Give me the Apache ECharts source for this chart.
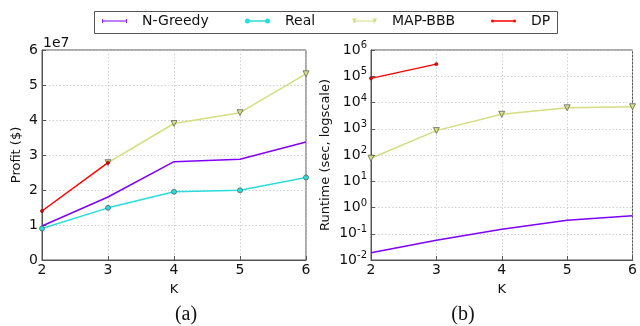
<!DOCTYPE html>
<html><head><meta charset="utf-8">
<script src="https://cdn.jsdelivr.net/npm/echarts@6/dist/echarts.min.js"></script>
<style>html,body{margin:0;padding:0;background:#fff}#c{width:640px;height:326px}</style>
</head><body><div id="c"></div>
<script>
const K = [2, 3, 4, 5, 6];
const seriesNames = ['N-Greedy', 'Real', 'MAP-BBB', 'DP'];
// Profit ($) panel (a)
const profitNGreedy = [0.97e7, 1.80e7, 2.81e7, 2.88e7, 3.37e7];
const profitReal    = [0.90e7, 1.49e7, 1.95e7, 1.99e7, 2.36e7];
const profitMAPBBB  = [null, 2.78e7, 3.90e7, 4.21e7, 5.32e7];
const profitDP      = [1.40e7, 2.78e7];
// Runtime (sec) panel (b)
const runNGreedy = [0.019, 0.056, 0.148, 0.33, 0.48];
const runMAPBBB  = [75, 850, 3550, 6300, 6900];
const runDP      = [8.3e4, 2.9e5];

const colors = {'N-Greedy':'#8000ff','Real':'#2adddd','MAP-BBB':'#d4dd80','DP':'#ff0000'};
const FONT = 'DejaVu Sans';
const pair = (xs, ys) => ys.map((y, i) => [xs[i], y]).filter(p => p[1] !== null);

const symbols = {
  'N-Greedy': {symbol:'none', symbolSize:0},
  'Real': {symbol:'circle', symbolSize:5},
  'MAP-BBB': {symbol:'triangle', symbolSize:6, symbolRotate:180},
  'DP': {symbol:'circle', symbolSize:3}
};
// legend icons: line with small markers at both ends (bbox = itemWidth x itemHeight)
const legendIcons = {
  'N-Greedy': {h:4, path:'path://M0,0 L0.8,0 L0.8,1.6 L24.2,1.6 L24.2,0 L25,0 L25,4 L24.2,4 L24.2,2.4 L0.8,2.4 L0.8,4 L0,4 Z'},
  'Real': {h:5, path:'path://M0,2.5 A2.5,2.5 0 1,1 5,2.5 A2.5,2.5 0 1,1 0,2.5 Z M2.5,1.8 L22.5,1.8 L22.5,3.2 L2.5,3.2 Z M20,2.5 A2.5,2.5 0 1,1 25,2.5 A2.5,2.5 0 1,1 20,2.5 Z'},
  'MAP-BBB': {h:5, path:'path://M0,0 L5,0 L3,2 L22,2 L20,0 L25,0 L22.5,5 L21,3 L4,3 L2.5,5 Z'},
  'DP': {h:3, path:'path://M0,1.5 A1.5,1.5 0 1,1 3,1.5 A1.5,1.5 0 1,1 0,1.5 Z M1.5,0.8 L23.5,0.8 L23.5,2.2 L1.5,2.2 Z M22,1.5 A1.5,1.5 0 1,1 25,1.5 A1.5,1.5 0 1,1 22,1.5 Z'}
};
function mk(name, data, gi, z) {
  const c = colors[name];
  const s = symbols[name];
  return {
    name, type:'line', xAxisIndex:gi, yAxisIndex:gi, data, z,
    symbol:s.symbol, symbolSize:s.symbolSize, symbolRotate:s.symbolRotate||0,
    lineStyle:{color:c, width:1.5}, itemStyle:{color:c, borderColor:name==='DP'?'#700':'#555', borderWidth:0.7},
    showSymbol: s.symbol !== 'none', animation:false
  };
}

const axisLine = {show:true, lineStyle:{color:'#555', width:1}};
const splitLine = {show:true, lineStyle:{color:'#c4c4c4', type:[1.5,2], width:0.8}};
const tick = {show:true, inside:true, length:4, lineStyle:{color:'#555'}};
function xAx(gi){
  return {type:'value', gridIndex:gi, min:2, max:6, interval:1,
    name:'K', nameLocation:'middle', nameGap:23, nameTextStyle:{fontFamily:FONT, fontSize:13, color:'#111'},
    axisLine, axisTick:tick, splitLine,
    axisLabel:{fontFamily:FONT, fontSize:14, color:'#111', margin:3}};
}

const option = {
  animation:false,
  backgroundColor:'#fff',
  grid:[
    {left:42, top:50, width:264, height:210, show:true, borderColor:'#555', borderWidth:1},
    {left:371, top:50, width:263, height:210, show:true, borderColor:'#555', borderWidth:1}
  ],
  xAxis:[xAx(0), xAx(1)],
  yAxis:[
    {type:'value', gridIndex:0, min:0, max:6e7, interval:1e7,
     name:'Profit ($)', nameLocation:'middle', nameGap:19, nameRotate:90,
     nameTextStyle:{fontFamily:FONT, fontSize:13, color:'#111'},
     axisLine, axisTick:tick, splitLine,
     axisLabel:{fontFamily:FONT, fontSize:14, color:'#111', margin:4, formatter:v=>String(Math.round(v/1e7))}},
    {type:'log', logBase:10, gridIndex:1, min:0.01, max:1e6, interval:1,
     name:'Runtime (sec, logscale)', nameLocation:'middle', nameGap:39, nameRotate:90,
     nameTextStyle:{fontFamily:FONT, fontSize:13, color:'#111'},
     axisLine, axisTick:tick, splitLine, minorTick:{show:false},
     axisLabel:{margin:4, formatter:v=>{const e=Math.round(Math.log10(v)); return '{b|10}{s|'+e+'}';},
       rich:{b:{fontFamily:FONT, fontSize:14, color:'#111'}, s:{fontFamily:FONT, fontSize:10, color:'#111', padding:[0,0,9,0]}}}}
  ],
  legend: seriesNames.map((n, i) => ({
    data:[n], left:[102, 245, 352, 491][i], top:14, padding:0,
    itemWidth:25, itemHeight:legendIcons[n].h, itemGap:0, icon:legendIcons[n].path,
    itemStyle:{borderWidth:0},
    textStyle:{fontFamily:FONT, fontSize:14, color:'#111', padding:[0,0,0,10]}, selectedMode:false
  })),
  graphic:[
    {type:'rect', shape:{x:94.5, y:11.5, width:463, height:22}, style:{fill:'none', stroke:'#555', lineWidth:1}, z:-1},
    {type:'text', left:43, top:36, style:{text:'1e7', font:'14px "DejaVu Sans"', fill:'#111'}},
    {type:'text', x:186, y:315, style:{text:'(a)', font:'20px "Liberation Serif"', fill:'#111', align:'center', verticalAlign:'middle'}},
    {type:'text', x:463, y:315, style:{text:'(b)', font:'20px "Liberation Serif"', fill:'#111', align:'center', verticalAlign:'middle'}}
  ],
  series:[
    mk('N-Greedy', pair(K, profitNGreedy), 0, 2),
    mk('Real', pair(K, profitReal), 0, 3),
    mk('MAP-BBB', pair(K, profitMAPBBB), 0, 4),
    mk('DP', pair(K, profitDP), 0, 5),
    mk('N-Greedy', pair(K, runNGreedy), 1, 2),
    mk('MAP-BBB', pair(K, runMAPBBB), 1, 4),
    mk('DP', pair(K, runDP), 1, 5)
  ]
};
const chart = echarts.init(document.getElementById('c'), null, {renderer:'canvas'});
chart.setOption(option);
</script></body></html>
